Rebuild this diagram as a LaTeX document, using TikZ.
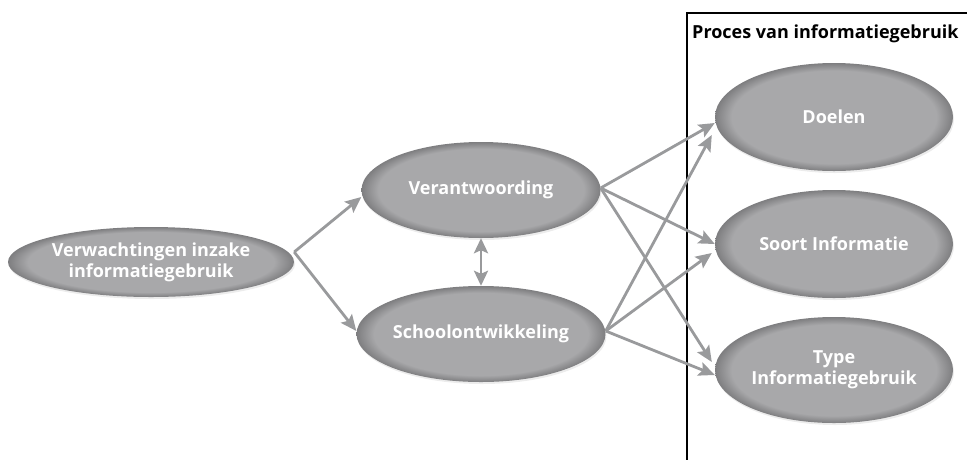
\documentclass[tikz,border=0pt]{standalone}
\usepackage{fontspec}
\setmainfont{Open Sans}
\usepackage{tikz}
\usetikzlibrary{positioning,shapes,arrows.meta,shadows}

\definecolor{ovaal}{HTML}{A8A8AA}
\definecolor{ovaalrand}{HTML}{7E7E80}
\definecolor{pijlgrijs}{HTML}{999A9C}
\pgfdeclareradialshading{ovaalshade}{\pgfpoint{0bp}{0bp}}{color(0bp)=(ovaal); color(21.5bp)=(ovaal); color(25bp)=(ovaalrand); color(50bp)=(ovaalrand)}

\tikzset{
	ovaal/.style={ellipse, inner sep=0pt, shading=ovaalshade, text=white, font=\fontsize{18}{21}\selectfont\bfseries, align=center,
		drop shadow={opacity=0.15, shadow xshift=1pt, shadow yshift=-2pt}},
	pijl/.style={draw=pijlgrijs, line width=2.8pt, -{Stealth[length=16pt,width=14pt,inset=3pt]}},
	dubbelpijl/.style={draw=pijlgrijs, line width=2.8pt, {Stealth[length=15pt,width=14pt,inset=3pt]}-{Stealth[length=15pt,width=14pt,inset=3pt]}}
}

\begin{document}
\begin{tikzpicture}[x=1pt,y=-1pt]
				\useasboundingbox (0,0) rectangle (967,459);
				% Kader proces
				\draw[line width=2pt] (687,460) -- (687,13) -- (968,13);
				\node[anchor=base west, font=\fontsize{18}{21}\selectfont\bfseries, inner sep=0pt] (proces) at (692,38) {Proces van informatiegebruik};
				% Ovalen
				\node[ovaal, minimum width=286pt, minimum height=70pt] (verw) at (151,262) {Verwachtingen inzake\\informatiegebruik};
				\node[ovaal, minimum width=239pt, minimum height=96pt] (verant) at (481,190) {Verantwoording};
				\node[ovaal, minimum width=239pt, minimum height=96pt] (school) at (481,334) {Schoolontwikkeling};
				\node[ovaal, minimum width=238pt, minimum height=108pt] (doelen) at (834,117) {Doelen};
				\node[ovaal, minimum width=238pt, minimum height=108pt] (soort) at (834,244) {Soort Informatie};
				\node[ovaal, minimum width=238pt, minimum height=106pt] (type) at (834,370) {Type\\Informatiegebruik};
				% Pijlen
				\path ([yshift=10pt]verw.east) edge[pijl] ([yshift=-7pt]verant.west);
				\path ([yshift=10pt]verw.east) edge[pijl] ([yshift=3pt]school.west);
				\path (verant.south) edge[dubbelpijl] (school.north);
				\path ([yshift=2pt]verant.east) edge[pijl] ([yshift=-6pt]doelen.west);
				\path ([yshift=2pt]verant.east) edge[pijl] (soort.west);
				\path ([yshift=2pt]verant.east) edge[pijl] ([xshift=-3pt,yshift=8pt]type.west);
				\path ([yshift=3pt]school.east) edge[pijl] ([xshift=-3pt,yshift=-18pt]doelen.west);
				\path ([yshift=3pt]school.east) edge[pijl] ([xshift=-3pt,yshift=-9pt]soort.west);
				\path ([yshift=3pt]school.east) edge[pijl] ([yshift=-5pt]type.west);
\end{tikzpicture}
\end{document}
